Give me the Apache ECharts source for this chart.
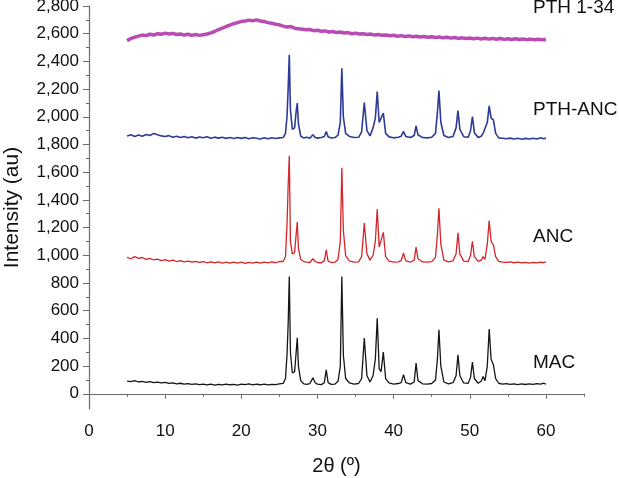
<!DOCTYPE html>
<html>
<head>
<meta charset="utf-8">
<script src="https://cdn.jsdelivr.net/npm/echarts@6/dist/echarts.min.js"></script>
<style>
  html, body { margin: 0; padding: 0; background: #fff; }
  #chart { width: 619px; height: 478px; }
</style>
</head>
<body>
<div id="chart"></div>
<script>
// 2theta positions shared by MAC, ANC and PTH-ANC
const twoTheta = [
  5, 5.5, 6, 6.5, 7, 7.5, 8, 8.5, 9, 9.5,
  10, 10.5, 11, 11.5, 12, 12.5, 13, 13.5, 14, 14.5,
  15, 15.5, 16, 16.5, 17, 17.5, 18, 18.5, 19, 19.5,
  20, 20.5, 21, 21.5, 22, 22.5, 23, 23.5, 24, 24.5,
  25, 25.5, 25.8, 26.0, 26.15, 26.3, 26.45, 26.7, 27.0, 27.2,
  27.35, 27.5, 27.8, 28.2, 28.6, 29.0, 29.4, 29.7, 30.0, 30.5,
  30.9, 31.15, 31.4, 31.8, 32.3, 32.7, 33.0, 33.2, 33.4, 33.7,
  34.2, 34.8, 35.4, 35.8, 36.15, 36.5, 36.9, 37.3, 37.6, 37.85,
  38.1, 38.35, 38.65, 38.95, 39.4, 40.0, 40.6, 41.0, 41.3, 41.6,
  42.2, 42.7, 42.95, 43.2, 43.8, 44.4, 45.0, 45.5, 45.75, 45.95,
  46.2, 46.6, 47.2, 47.8, 48.2, 48.45, 48.7, 49.2, 49.8, 50.1,
  50.35, 50.6, 51.1, 51.5, 51.75, 52.0, 52.3, 52.55, 52.8, 53.1,
  53.4, 53.8, 54.3, 54.8, 55.3, 55.8, 56.3, 56.8, 57.3, 57.8,
  58.3, 58.8, 59.3, 59.7, 60
];
const mac = [
  92, 88, 95, 85, 90, 83, 88, 80, 84, 78,
  82, 75, 79, 72, 76, 70, 74, 68, 72, 66,
  70, 64, 69, 63, 68, 64, 70, 65, 68, 63,
  70, 66, 72, 64, 69, 65, 70, 64, 68, 66,
  72, 75, 110, 280, 500, 847, 300, 150, 160, 300,
  404, 200, 95, 72, 68, 74, 115, 80, 70, 66,
  80, 173, 80, 68, 70, 90, 200, 847, 280, 110,
  78, 70, 74, 110, 402, 130, 85, 130, 250, 546,
  180, 160, 301, 110, 78, 70, 74, 80, 137, 80,
  70, 85, 221, 95, 72, 70, 74, 100, 250, 462,
  200, 85, 72, 80, 130, 281, 130, 78, 75, 120,
  229, 110, 76, 90, 125, 95, 200, 467, 250, 209,
  110, 76, 70, 74, 68, 72, 66, 71, 67, 72,
  68, 74, 70, 76, 70
];
const anc = [
  985, 975, 990, 978, 984, 970, 978, 966, 972, 962,
  968, 958, 965, 955, 962, 952, 958, 950, 956, 948,
  955, 946, 953, 945, 952, 944, 950, 943, 951, 944,
  950, 942, 949, 943, 950, 944, 951, 945, 952, 946,
  955, 955, 990, 1220, 1500, 1718, 1100, 1010, 1020, 1150,
  1240, 1050, 970, 955, 950, 948, 975, 955, 948, 945,
  960, 1040, 958, 948, 950, 970, 1100, 1632, 1180, 995,
  960, 950, 952, 990, 1232, 1010, 965, 1000, 1100, 1333,
  1060, 1050, 1165, 990, 958, 950, 952, 962, 1016, 960,
  950, 965, 1059, 975, 952, 950, 954, 985, 1150, 1340,
  1080, 965, 952, 960, 1010, 1162, 1010, 958, 955, 1000,
  1100, 990, 956, 965, 990, 970, 1080, 1251, 1100, 1076,
  990, 956, 950, 948, 952, 946, 950, 945, 949, 944,
  948, 945, 950, 946, 952
];
const pthAnc = [
  1862, 1870, 1858, 1868, 1860, 1872, 1865, 1880, 1870, 1862,
  1858, 1864, 1852, 1860, 1850, 1858, 1848, 1856, 1846, 1854,
  1848, 1856, 1845, 1853, 1846, 1852, 1844, 1850, 1843, 1851,
  1844, 1850, 1842, 1849, 1845, 1840, 1848, 1842, 1849, 1843,
  1848, 1850, 1880, 2000, 2200, 2448, 2050, 1910, 1920, 2040,
  2099, 1950, 1860, 1848, 1852, 1845, 1870, 1850, 1846, 1850,
  1858, 1894, 1855, 1847, 1850, 1868, 1960, 2351, 2000, 1880,
  1858, 1850, 1852, 1890, 2103, 1900, 1862, 1920, 1990, 2183,
  1960, 1970, 2026, 1880, 1855, 1848, 1852, 1860, 1894, 1858,
  1850, 1865, 1935, 1870, 1850, 1848, 1852, 1880, 2030, 2190,
  1960, 1865, 1850, 1858, 1920, 2045, 1910, 1856, 1852, 1900,
  2002, 1885, 1850, 1860, 1880, 1870, 1960, 2079, 1990, 1978,
  1880, 1848, 1845, 1842, 1846, 1840, 1845, 1838, 1844, 1840,
  1845, 1839, 1848, 1842, 1846
];
// PTH 1-34 (amorphous)
const pthTheta = [
  5, 5.5, 6, 6.5, 7, 7.5, 8, 8.5, 9, 9.5,
  10, 10.5, 11, 11.5, 12, 12.5, 13, 13.5, 14, 14.5,
  15, 15.5, 16, 16.5, 17, 17.5, 18, 18.5, 19, 19.5,
  20, 20.5, 21, 21.5, 22, 22.5, 23, 23.5, 24, 24.5,
  25, 25.5, 26, 26.5, 27, 27.5, 28, 28.5, 29, 29.5,
  30, 30.5, 31, 31.5, 32, 32.5, 33, 33.5, 34, 34.5,
  35, 35.5, 36, 36.5, 37, 37.5, 38, 38.5, 39, 39.5,
  40, 40.5, 41, 41.5, 42, 42.5, 43, 43.5, 44, 44.5,
  45, 45.5, 46, 46.5, 47, 47.5, 48, 48.5, 49, 49.5,
  50, 50.5, 51, 51.5, 52, 52.5, 53, 53.5, 54, 54.5,
  55, 55.5, 56, 56.5, 57, 57.5, 58, 58.5, 59, 59.5,
  60
];
const pth134 = [
  2550, 2566, 2574, 2582, 2590, 2586, 2596, 2590, 2600, 2596,
  2604, 2598, 2602, 2594, 2598, 2590, 2596, 2588, 2594, 2588,
  2593, 2598, 2606, 2616, 2630, 2640, 2652, 2662, 2672, 2680,
  2688, 2692, 2698, 2694, 2700, 2692, 2688, 2680, 2676, 2668,
  2664, 2655, 2648, 2652, 2640, 2636, 2632, 2628, 2630, 2622,
  2625, 2618, 2620, 2612, 2616, 2608, 2612, 2605, 2608, 2600,
  2604, 2598, 2600, 2594, 2597, 2590, 2594, 2588, 2591, 2585,
  2589, 2582, 2586, 2580, 2584, 2578, 2582, 2576, 2580, 2574,
  2578, 2572, 2576, 2570, 2574, 2568, 2572, 2566, 2570, 2565,
  2569, 2563, 2568, 2562, 2567, 2561, 2566, 2560, 2565, 2559,
  2564, 2558, 2563, 2558, 2562, 2557, 2561, 2556, 2560, 2556,
  2558
];
const xLabels = [0, 10, 20, 30, 40, 50, 60];
const xMinorTicks = [5, 15, 25, 35, 45, 55, 65];
const yLabels = [0, 200, 400, 600, 800, 1000, 1200, 1400, 1600, 1800, 2000, 2200, 2400, 2600, 2800];
const yMinorTicks = [100, 300, 500, 700, 900, 1100, 1300, 1500, 1700, 1900, 2100, 2300, 2500, 2700];
const seriesNames = ['MAC', 'ANC', 'PTH-ANC', 'PTH 1-34'];

const zip = (xs, ys) => xs.map((x, i) => [x, ys[i]]);
const fnt = 'Liberation Sans, Arial, sans-serif';
const axisCol = '#6b6b6b';

var myChart = echarts.init(document.getElementById('chart'), null, { renderer: 'canvas' });
var option = {
  animation: false,
  backgroundColor: '#fff',
  grid: { left: 89, right: 35, top: 6, bottom: 69, outerBoundsMode: 'none' },
  xAxis: [{
    type: 'value', min: 0, max: 65,
    name: '2θ (º)', nameLocation: 'middle', nameGap: 47,
    nameTextStyle: { fontSize: 20, color: '#111', fontFamily: fnt },
    splitLine: { show: false },
    axisLine: { lineStyle: { color: axisCol, width: 1.2 } },
    axisTick: { customValues: xLabels, length: 5, lineStyle: { color: axisCol } },
    axisLabel: { customValues: xLabels, fontSize: 17, color: '#111', fontFamily: fnt, margin: 14 }
  }, {
    type: 'value', min: 0, max: 65, position: 'bottom',
    splitLine: { show: false },
    axisLine: { show: false },
    axisTick: { customValues: xMinorTicks, length: 3, lineStyle: { color: axisCol } },
    axisLabel: { show: false }
  }],
  yAxis: [{
    type: 'value', min: -110, max: 2800,
    name: 'Intensity (au)', nameLocation: 'middle', nameGap: 66,
    nameTextStyle: { fontSize: 21, color: '#111', fontFamily: fnt },
    splitLine: { show: false },
    axisLine: { show: true, lineStyle: { color: axisCol, width: 1.2 } },
    axisTick: { customValues: yLabels, length: 6, lineStyle: { color: axisCol } },
    axisLabel: {
      customValues: yLabels, fontSize: 17, color: '#111', fontFamily: fnt, margin: 10,
      formatter: (v) => v.toLocaleString('en-US')
    }
  }, {
    type: 'value', min: -110, max: 2800, position: 'left',
    splitLine: { show: false },
    axisLine: { show: false },
    axisTick: { customValues: yMinorTicks, length: 3, lineStyle: { color: axisCol } },
    axisLabel: { show: false }
  }],
  series: [
    { name: seriesNames[0], type: 'line', showSymbol: false, data: zip(twoTheta, mac),
      lineStyle: { color: '#151515', width: 1.3 } },
    { name: seriesNames[1], type: 'line', showSymbol: false, data: zip(twoTheta, anc),
      lineStyle: { color: '#d3262b', width: 1.3 } },
    { name: seriesNames[2], type: 'line', showSymbol: false, data: zip(twoTheta, pthAnc),
      lineStyle: { color: '#2d3a98', width: 1.6 } },
    { name: seriesNames[3], type: 'line', showSymbol: false, data: zip(pthTheta, pth134),
      lineStyle: { color: '#b84cb4', width: 3.5 } }
  ],
  graphic: [
    { type: 'text', x: 533, y: 8, style: { text: seriesNames[3], fill: '#111', fontSize: 19, fontFamily: fnt, verticalAlign: 'middle' } },
    { type: 'text', x: 533, y: 110, style: { text: seriesNames[2], fill: '#111', fontSize: 19, fontFamily: fnt, verticalAlign: 'middle' } },
    { type: 'text', x: 533, y: 237, style: { text: seriesNames[1], fill: '#111', fontSize: 19, fontFamily: fnt, verticalAlign: 'middle' } },
    { type: 'text', x: 533, y: 363, style: { text: seriesNames[0], fill: '#111', fontSize: 19, fontFamily: fnt, verticalAlign: 'middle' } }
  ]
};
option && myChart.setOption(option);
</script>
</body>
</html>
